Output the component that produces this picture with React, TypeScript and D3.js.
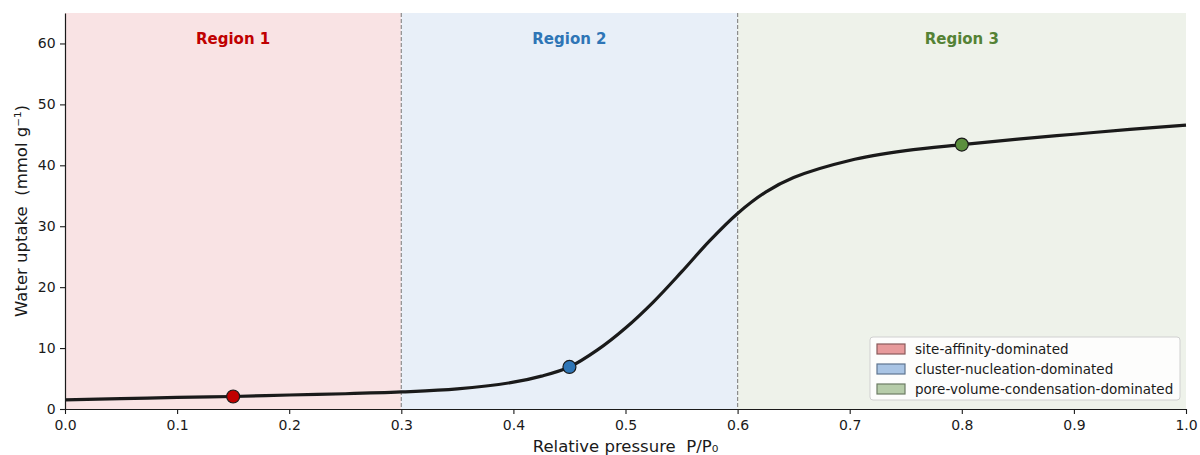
import { useEffect, useRef } from 'react';
import * as d3 from 'd3';

// isotherm
const pressure = [0, 0.05, 0.1, 0.15, 0.2, 0.25, 0.3, 0.35, 0.4, 0.425, 0.45, 0.475, 0.5, 0.525, 0.55, 0.575, 0.6, 0.625, 0.65, 0.7, 0.75, 0.8, 0.85, 0.9, 0.95, 1.0];
const uptake = [1.5, 1.7, 1.9, 2.05, 2.3, 2.5, 2.8, 3.3, 4.4, 5.4, 6.9, 9.7, 13.3, 17.6, 22.5, 27.6, 32.1, 35.6, 38.0, 40.8, 42.4, 43.4, 44.3, 45.1, 45.9, 46.6];

const regionNames = ['Region 1', 'Region 2', 'Region 3'];
const regionBounds = [[0, 0.3], [0.3, 0.6], [0.6, 1.0]];
const regionLegend = ['site-affinity-dominated', 'cluster-nucleation-dominated', 'pore-volume-condensation-dominated'];
const markerX = [0.15, 0.45, 0.8];
const markerY = [2.05, 6.9, 43.4];

const xTicks = [0, 0.1, 0.2, 0.3, 0.4, 0.5, 0.6, 0.7, 0.8, 0.9, 1.0];
const yTicks = [0, 10, 20, 30, 40, 50, 60];

const fills = ['#f9e3e4', '#e8eff8', '#eef2ea'];
const titleColors = ['#c00000', '#2e75b6', '#548235'];
const dotColors = ['#c00000', '#2e75b6', '#5b8f3d'];
const patchFill = ['#e79a9b', '#a9c4e4', '#b6cca9'];
const patchStroke = ['#8a5a5a', '#5f7590', '#6d7c64'];

function App() {
  const svgRef = useRef<SVGSVGElement>(null);

  useEffect(() => {
    const width = 1200;
    const height = 455;
    const m = { left: 65, right: 14, top: 13, bottom: 46 };
    const font = 'DejaVu Sans, sans-serif';

    const svg = d3.select(svgRef.current);
    svg.selectAll('*').remove();
    svg.attr('width', width).attr('height', height);

    const x = d3.scaleLinear().domain([0, 1]).range([m.left, width - m.right]);
    const y = d3.scaleLinear().domain([0, 65]).range([height - m.bottom, m.top]);

    // shaded regions
    svg.selectAll('rect.region')
      .data(regionBounds)
      .enter()
      .append('rect')
      .attr('x', (d) => x(d[0]))
      .attr('y', y(65))
      .attr('width', (d) => x(d[1]) - x(d[0]))
      .attr('height', y(0) - y(65))
      .attr('fill', (d, i) => fills[i]);

    // dashed boundaries
    [0.3, 0.6].forEach((b) => {
      svg.append('line')
        .attr('x1', x(b)).attr('x2', x(b))
        .attr('y1', y(65)).attr('y2', y(0))
        .attr('stroke', '#8c8c8c')
        .attr('stroke-width', 1.2)
        .attr('stroke-dasharray', '4,2');
    });

    // region titles
    svg.selectAll('text.title')
      .data(regionNames)
      .enter()
      .append('text')
      .attr('x', (d, i) => x(markerX[i]))
      .attr('y', 44)
      .attr('text-anchor', 'middle')
      .attr('font-family', font)
      .attr('font-size', '15px')
      .attr('font-weight', 'bold')
      .attr('fill', (d, i) => titleColors[i])
      .text((d) => d);

    // isotherm
    const line = d3.line<number>()
      .x((d, i) => x(pressure[i]))
      .y((d) => y(d))
      .curve(d3.curveCatmullRom.alpha(0.5));

    svg.append('path')
      .attr('d', line(uptake))
      .attr('fill', 'none')
      .attr('stroke', '#1a1a1a')
      .attr('stroke-width', 3.2);

    svg.selectAll('circle.marker')
      .data(markerX)
      .enter()
      .append('circle')
      .attr('cx', (d) => x(d))
      .attr('cy', (d, i) => y(markerY[i]))
      .attr('r', 6.5)
      .attr('fill', (d, i) => dotColors[i])
      .attr('stroke', '#1a1a1a')
      .attr('stroke-width', 1.2);

    // axes
    const xAxis = svg.append('g')
      .attr('transform', `translate(0, ${y(0)})`)
      .call(d3.axisBottom(x).tickValues(xTicks).tickFormat(d3.format('.1f')).tickSize(5).tickSizeOuter(0));
    const yAxis = svg.append('g')
      .attr('transform', `translate(${m.left}, 0)`)
      .call(d3.axisLeft(y).tickValues(yTicks).tickSize(5).tickSizeOuter(0));

    [xAxis, yAxis].forEach((a) => {
      a.selectAll('text').attr('font-family', font).attr('font-size', '14px').attr('fill', '#1a1a1a');
      a.select('.domain').attr('stroke', '#1a1a1a').attr('stroke-width', 1.2);
      a.selectAll('.tick line').attr('stroke', '#1a1a1a').attr('stroke-width', 1.1);
    });
    xAxis.selectAll('text').attr('dy', '0.95em');
    yAxis.selectAll('text').attr('dx', '-0.1em');

    svg.append('text')
      .attr('x', (x(0) + x(1)) / 2)
      .attr('y', 452)
      .attr('text-anchor', 'middle')
      .attr('font-family', font)
      .attr('font-size', '16.5px')
      .attr('fill', '#1a1a1a')
      .style('white-space', 'pre')
      .text('Relative pressure  P/P\u2080');

    svg.append('text')
      .attr('transform', `translate(27, ${(y(0) + y(65)) / 2}) rotate(-90)`)
      .attr('text-anchor', 'middle')
      .attr('font-family', font)
      .attr('font-size', '16.5px')
      .attr('fill', '#1a1a1a')
      .style('white-space', 'pre')
      .text('Water uptake  (mmol g\u207b\u00b9)');

    // legend
    const lg = svg.append('g').attr('transform', 'translate(870, 337)');
    lg.append('rect')
      .attr('width', 310)
      .attr('height', 63)
      .attr('rx', 3)
      .attr('fill', 'white')
      .attr('fill-opacity', 0.85)
      .attr('stroke', '#d0d0d0');

    const items = lg.selectAll('g.item')
      .data(regionLegend)
      .enter()
      .append('g')
      .attr('transform', (d, i) => `translate(7, ${6 + i * 20})`);

    items.append('rect')
      .attr('width', 28)
      .attr('height', 10)
      .attr('y', 1)
      .attr('fill', (d, i) => patchFill[i])
      .attr('stroke', (d, i) => patchStroke[i])
      .attr('stroke-width', 1.2);

    items.append('text')
      .attr('x', 38)
      .attr('y', 6)
      .attr('dy', '.35em')
      .attr('font-family', font)
      .attr('font-size', '13.5px')
      .attr('fill', '#1a1a1a')
      .text((d) => d);
  }, []);

  return <svg ref={svgRef} style={{ position: 'absolute', left: 0, top: 0 }}></svg>;
}

export default App;
